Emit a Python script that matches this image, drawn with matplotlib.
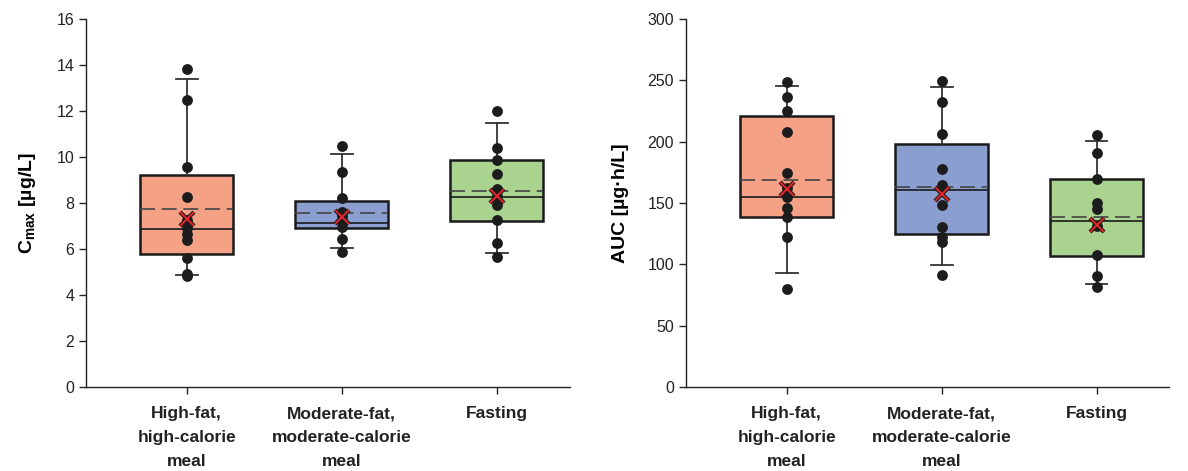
import matplotlib
matplotlib.use('Agg')
import matplotlib.pyplot as plt

plt.rcParams['font.family'] = ['Liberation Sans', 'DejaVu Sans']
plt.rcParams['mathtext.fontset'] = 'custom'
plt.rcParams['mathtext.rm'] = 'Liberation Sans'
plt.rcParams['mathtext.bf'] = 'Liberation Sans:bold'

# ================= data =================
groups = ["High-fat,\nhigh-calorie\nmeal", "Moderate-fat,\nmoderate-calorie\nmeal", "Fasting"]
box_colors = ['#F4A186', '#8A9ED0', '#A9D38E']

# Cmax [µg/L]
cmax_points = [
    [13.83, 12.48, 9.55, 8.27, 7.25, 6.9, 6.65, 6.39, 5.6, 4.9, 4.82],
    [10.48, 9.36, 8.23, 7.62, 7.43, 7.2, 6.97, 6.42, 5.88],
    [12.0, 10.38, 9.87, 9.26, 8.6, 8.3, 7.9, 7.26, 6.27, 5.67],
]
cmax_q1 = [5.77, 6.93, 7.23]
cmax_med = [6.87, 7.13, 8.28]
cmax_q3 = [9.22, 8.07, 9.87]
cmax_whislo = [4.85, 6.03, 5.84]
cmax_whishi = [13.4, 10.12, 11.49]
cmax_mean = [7.72, 7.55, 8.52]
cmax_gmean = [7.29, 7.41, 8.31]

# AUC [µg·h/L]
auc_points = [
    [248.4, 236.7, 225.3, 207.6, 174.2, 162.0, 155.2, 146.2, 138.9, 122.0, 79.6],
    [249.7, 232.6, 206.0, 177.7, 164.7, 148.4, 130.2, 122.6, 118.5, 91.3],
    [205.4, 190.5, 169.3, 150.3, 144.9, 131.2, 107.6, 90.5, 81.3],
]
auc_q1 = [138.9, 124.7, 106.8]
auc_med = [155.2, 160.6, 135.3]
auc_q3 = [220.9, 198.1, 169.3]
auc_whislo = [92.7, 99.5, 84.0]
auc_whishi = [245.4, 244.8, 200.5]
auc_mean = [168.7, 163.3, 138.9]
auc_gmean = [161.4, 157.3, 132.0]


def draw_panel(ax, points, q1, med, q3, wlo, whi, mean, gmean, ylim, yticks, ylabel):
    stats = []
    for i in range(len(groups)):
        stats.append(dict(med=med[i], q1=q1[i], q3=q3[i], whislo=wlo[i], whishi=whi[i],
                          mean=mean[i], fliers=[]))
    pos = list(range(len(groups)))
    bp = ax.bxp(stats, positions=pos, widths=0.6, patch_artist=True,
                showmeans=True, meanline=True, showfliers=False,
                boxprops=dict(edgecolor='#1a1a1a', linewidth=1.8),
                medianprops=dict(color='#1a1a1a', linewidth=1.2),
                meanprops=dict(color='#444444', linewidth=1.2, linestyle=(0, (9, 4))),
                whiskerprops=dict(color='#333333', linewidth=1.3),
                capprops=dict(color='#333333', linewidth=1.3),
                capwidths=0.14, zorder=2)
    for patch, c in zip(bp['boxes'], box_colors):
        patch.set_facecolor(c)

    for i, pts in enumerate(points):
        ax.plot([pos[i]] * len(pts), pts, 'o', color='#1c1c1c', markersize=7.8,
                markeredgewidth=0, zorder=3)
    # geometric mean cross
    ax.plot(pos, gmean, 'x', color='#1a1a1a', markersize=10, markeredgewidth=3.0, zorder=4)
    ax.plot(pos, gmean, 'x', color='#E8262B', markersize=9.4, markeredgewidth=1.4, zorder=5)

    ax.set_xlim(-0.65, 2.47)
    ax.set_ylim(*ylim)
    ax.set_yticks(yticks)
    ax.set_xticks(pos)
    ax.set_xticklabels(groups, fontsize=12.5, fontweight='bold', linespacing=1.75)
    ax.tick_params(axis='both', direction='out', length=5, width=1, colors='#222222',
                   labelcolor='#222222')
    ax.tick_params(axis='y', labelsize=11.5)
    ax.tick_params(axis='x', pad=9)
    for s in ['top', 'right']:
        ax.spines[s].set_visible(False)
    for s in ['left', 'bottom']:
        ax.spines[s].set_linewidth(1)
        ax.spines[s].set_color('#222222')
    ax.set_ylabel(ylabel, fontsize=14, fontweight='bold', labelpad=13)


fig = plt.figure(figsize=(11.88, 4.71), dpi=100)
ax1 = fig.add_axes([0.0724, 0.1783, 0.407, 0.7814])
ax2 = fig.add_axes([0.5774, 0.1783, 0.407, 0.7814])

draw_panel(ax1, cmax_points, cmax_q1, cmax_med, cmax_q3, cmax_whislo, cmax_whishi,
           cmax_mean, cmax_gmean, (0, 16), range(0, 17, 2), r'$\mathbf{C_{max}}$ [µg/L]')
draw_panel(ax2, auc_points, auc_q1, auc_med, auc_q3, auc_whislo, auc_whishi,
           auc_mean, auc_gmean, (0, 300), range(0, 301, 50), 'AUC [µg·h/L]')

fig.savefig('out.png', dpi=100)
